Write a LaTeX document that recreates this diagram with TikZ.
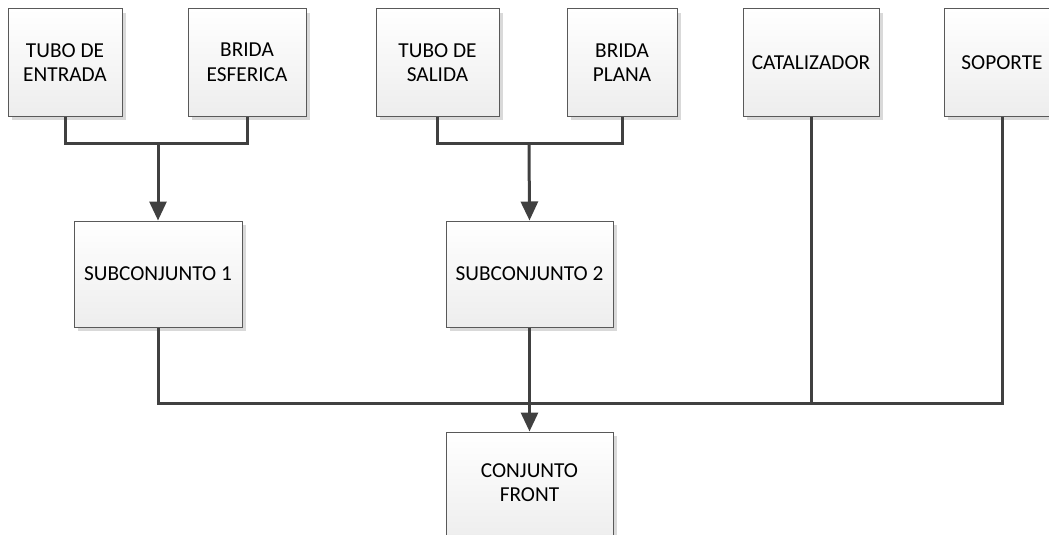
\documentclass[tikz,border=0pt]{standalone}
\usepackage{fontspec}
\setmainfont{Carlito}
\usetikzlibrary{arrows.meta,shadows}
\definecolor{conncol}{HTML}{404040}
\definecolor{boxline}{HTML}{595959}
\tikzset{
  blockbox/.style={draw=boxline, line width=1pt, top color=white, bottom color=black!7,
    align=center, inner sep=0pt, font=\fontsize{21.3}{24.6}\selectfont,
    drop shadow={shadow xshift=4pt, shadow yshift=-4pt, fill=black!15, opacity=1}},
  conn/.style={draw=conncol, line width=3pt, line join=miter},
  arr/.style={conn, -{Triangle[width=17pt,length=19pt]}}
}
\begin{document}
\begin{tikzpicture}[x=1pt,y=-1pt]
\useasboundingbox (0,0) rectangle (1049,535);
\clip (0,0) rectangle (1049,535);
\node[blockbox, minimum width=114pt, minimum height=107pt] (te) at (65,62.5) {TUBO DE\\ENTRADA};
\node[blockbox, minimum width=118pt, minimum height=107pt] (be) at (247,62.5) {BRIDA\\ESFERICA};
\node[blockbox, minimum width=123pt, minimum height=107pt] (ts) at (437.5,62.5) {TUBO DE\\SALIDA};
\node[blockbox, minimum width=110pt, minimum height=107pt] (bp) at (622,62.5) {BRIDA\\PLANA};
\node[blockbox, minimum width=136pt, minimum height=107pt] (ca) at (811,62.5) {CATALIZADOR};
\node[blockbox, minimum width=116pt, minimum height=107pt] (so) at (1002,62.5) {SOPORTE};
\node[blockbox, minimum width=168pt, minimum height=106pt] (s1) at (158,274) {SUBCONJUNTO 1};
\node[blockbox, minimum width=167pt, minimum height=106pt] (s2) at (529.5,274) {SUBCONJUNTO 2};
\node[blockbox, minimum width=167pt, minimum height=110pt] (cf) at (529.5,487) {};
\node[font=\fontsize{21.3}{24.6}\selectfont, align=center, anchor=north, inner sep=0pt] (cft) at (529.5,463) {CONJUNTO\\FRONT};
\coordinate (j1) at (158,143.5);
\coordinate (j2) at (529,143.5);
\coordinate (j3) at (529,403);
\draw[conn] (te.south) -- (te.south|-j1) -- (be.south|-j1) -- (be.south);
\draw[arr] (j1) -- (s1.north);
\draw[conn] (ts.south) -- (ts.south|-j2) -- (bp.south|-j2) -- (bp.south);
\draw[arr] (j2) -- (s2.north);
\draw[conn] (s1.south) -- (s1.south|-j3) -- (so.south|-j3) -- (so.south);
\draw[conn] (ca.south) -- (ca.south|-j3);
\draw[arr] (s2.south) -- (cf.north);
\end{tikzpicture}
\end{document}
